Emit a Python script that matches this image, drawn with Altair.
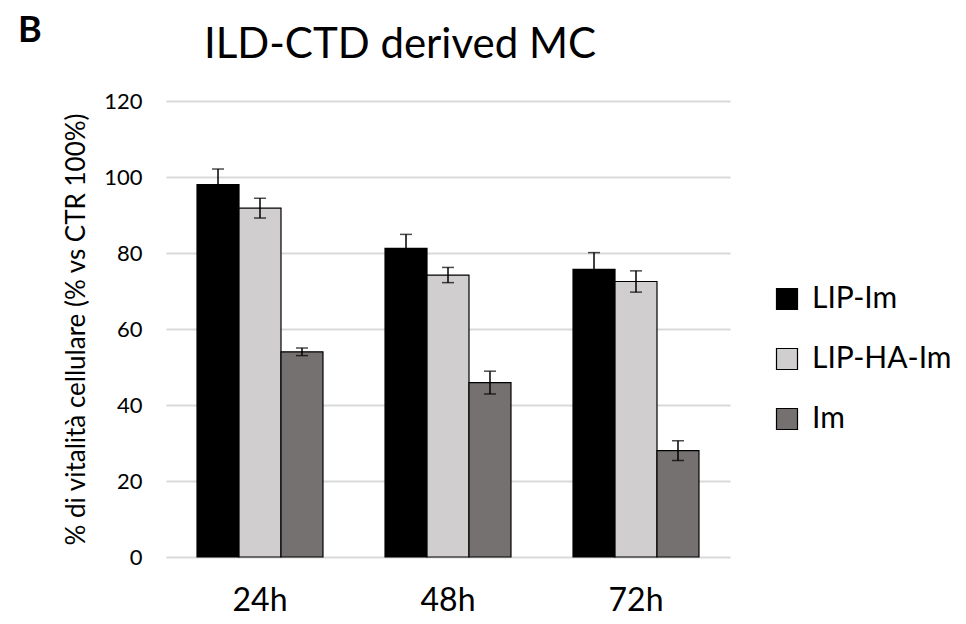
import altair as alt
import pandas as pd

times = ["24h", "48h", "72h"]
series = ["LIP-Im", "LIP-HA-Im", "Im"]
colors = ["#000000", "#d0cece", "#767171"]
lip_im = [98.0, 81.2, 75.7]
lip_im_err = [4.1, 3.7, 4.4]
lip_ha_im = [91.8, 74.2, 72.5]
lip_ha_im_err = [2.6, 2.0, 2.8]
im = [54.0, 45.9, 28.0]
im_err = [1.0, 3.0, 2.6]

rows = []
for s, vals, errs in [("LIP-Im", lip_im, lip_im_err), ("LIP-HA-Im", lip_ha_im, lip_ha_im_err), ("Im", im, im_err)]:
    for t, v, e in zip(times, vals, errs):
        rows.append({"time": t, "series": s, "value": v, "lo": v - e, "hi": v + e})
df = pd.DataFrame(rows)

FONT = "Lato"

x = alt.X("time:N", sort=times, title=None,
          scale=alt.Scale(paddingInner=0.33, paddingOuter=0.165),
          axis=alt.Axis(labelAngle=0, labelFontSize=32, labelPadding=28, ticks=False,
                        domain=False, labelColor="#000", labelFont=FONT))
xo = alt.XOffset("series:N", sort=series, scale=alt.Scale(paddingInner=0, paddingOuter=0))

bars = alt.Chart(df).mark_bar(stroke="black", strokeWidth=1.2).encode(
    x=x, xOffset=xo,
    y=alt.Y("value:Q", scale=alt.Scale(domain=[0, 120]),
            title="% di vitalità cellulare (% vs CTR 100%)",
            axis=alt.Axis(values=[0, 20, 40, 60, 80, 100, 120], labelFontSize=22,
                          titleFontSize=26, titleFontWeight="normal", labelPadding=24,
                          titlePadding=14, ticks=False, domain=False, gridColor="#d9d9d9",
                          gridWidth=2, labelColor="#000", titleColor="#000",
                          labelFont=FONT, titleFont=FONT)),
    color=alt.Color("series:N", sort=series, scale=alt.Scale(domain=series, range=colors),
                    legend=alt.Legend(title=None, orient="none", legendX=606, legendY=183,
                                      symbolType="square", symbolSize=441, symbolStrokeColor="black",
                                      symbolStrokeWidth=1.2, labelFontSize=30, labelFont=FONT,
                                      labelColor="#000", rowPadding=30, labelOffset=10)),
)

rule = alt.Chart(df).mark_rule(color="black", strokeWidth=1.5).encode(
    x=x, xOffset=xo, y="lo:Q", y2="hi:Q")
cap_hi = alt.Chart(df).mark_tick(color="black", size=12, thickness=1.5).encode(
    x=x, xOffset=xo, y="hi:Q")
cap_lo = alt.Chart(df).mark_tick(color="black", size=12, thickness=1.5).encode(
    x=x, xOffset=xo, y="lo:Q")

texts = pd.DataFrame({"t": ["B"]})
label_b = alt.Chart(texts).mark_text(
    font=FONT, fontSize=36, fontWeight="bold", align="left", baseline="alphabetic", color="#000"
).encode(text="t:N", x=alt.value(-148), y=alt.value(-59))

title_df = pd.DataFrame({"t": ["ILD-CTD derived MC"]})
title_txt = alt.Chart(title_df).mark_text(
    font=FONT, fontSize=42, align="center", baseline="alphabetic", color="#000"
).encode(text="t:N", x=alt.value(234), y=alt.value(-43))

chart = alt.layer(bars, rule, cap_hi, cap_lo, label_b, title_txt).properties(
    width=564, height=456,
    padding={"left": 158, "top": 93, "right": 228, "bottom": 66},
    autosize=alt.AutoSizeParams(type="none"),
).configure_view(stroke=None)

chart.save("out.html", embed_options={"renderer": "svg", "actions": False})
